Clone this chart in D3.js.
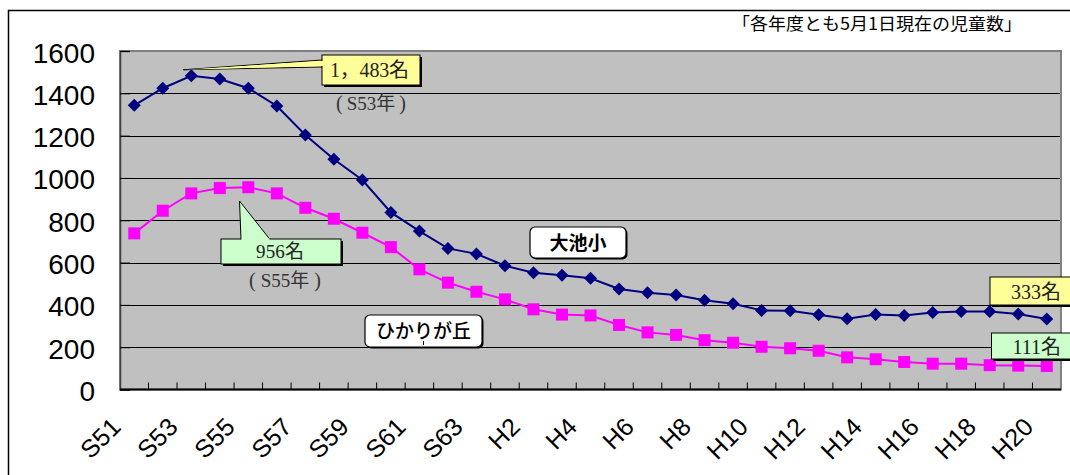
<!DOCTYPE html>
<html>
<head>
<meta charset="utf-8">
<script src="https://cdn.jsdelivr.net/npm/d3@7"></script>
<style>
  html, body { margin: 0; padding: 0; background: #fff; }
  svg { display: block; }
  text { text-spacing-trim: space-all; }
</style>
</head>
<body>
<svg id="chart" width="1070" height="475"></svg>
<script>
// ---------- data ----------
const categories = ["S51","S52","S53","S54","S55","S56","S57","S58","S59","S60","S61","S62","S63",
  "H1","H2","H3","H4","H5","H6","H7","H8","H9","H10","H11","H12","H13","H14","H15","H16","H17","H18","H19","H20"];
const ooikeSho = [1343,1424,1483,1468,1424,1340,1203,1088,990,837,749,667,641,
  585,552,540,526,475,457,447,422,405,374,372,353,335,354,350,364,369,369,357,333];
const hikarigaoka = [738,845,927,952,956,927,859,807,741,673,568,505,462,
  426,379,354,350,305,270,258,233,221,202,195,183,152,143,130,122,122,115,113,111];
const xTickLabels = ["S51","S53","S55","S57","S59","S61","S63","H2","H4","H6","H8","H10","H12","H14","H16","H18","H20"];
const yTicks = [0,200,400,600,800,1000,1200,1400,1600];
const seriesNames = ["大池小","ひかりが丘"];
const titleText = "「各年度とも5月1日現在の児童数」";

// ---------- layout ----------
const svg = d3.select("#chart");
const L = 120, R = 1061, T = 51, B = 389.5;
const x = d3.scaleBand().domain(categories).range([L, R]).padding(0);
const cx = c => x(c) + x.bandwidth() / 2;
const y = d3.scaleLinear().domain([0, 1600]).range([B, T]);

const sans = "'Liberation Sans', Arial, 'Noto Sans CJK JP', sans-serif";
const serif = "'Liberation Serif', 'Times New Roman', 'Noto Sans CJK JP', serif";
const jp = "'Noto Sans CJK JP', 'Noto Sans', sans-serif";

// outer frame
svg.append("rect").attr("x", 8.5).attr("y", 10.5).attr("width", 1200).attr("height", 600)
  .attr("fill", "#fff").attr("stroke", "#000").attr("stroke-width", 1.5);

// title
svg.append("text").attr("x", 732).attr("y", 30)
  .attr("textLength", 290).attr("lengthAdjust", "spacingAndGlyphs")
  .attr("font-family", jp).attr("font-size", 17).attr("fill", "#000").text(titleText);

// plot area
svg.append("rect").attr("x", L).attr("y", T).attr("width", R - L).attr("height", B - T)
  .attr("fill", "#C0C0C0");

// gridlines
svg.append("g").selectAll("line").data(yTicks.filter(v => v > 0 && v < 1600)).join("line")
  .attr("x1", L).attr("x2", R).attr("y1", d => Math.round(y(d)) + 0.5).attr("y2", d => Math.round(y(d)) + 0.5)
  .attr("stroke", "#000").attr("stroke-width", 1);

// plot border
svg.append("rect").attr("x", L).attr("y", T).attr("width", R - L).attr("height", B - T)
  .attr("fill", "none").attr("stroke", "#808080").attr("stroke-width", 2);

// y axis
const yAxis = svg.append("g").attr("transform", `translate(${L},0)`)
  .call(d3.axisLeft(y).tickValues(yTicks).tickFormat(d3.format("d")).tickSize(-10).tickPadding(0));
yAxis.select(".domain").attr("stroke", "#404040").attr("stroke-width", 1.5);
yAxis.selectAll(".tick line").attr("stroke", "#000");
yAxis.selectAll(".tick text").attr("x", -25).attr("dy", 11).attr("text-anchor", "end")
  .attr("font-family", sans).attr("font-size", 28).attr("fill", "#000");

// x axis (labels)
const xAxis = svg.append("g").attr("transform", `translate(0,${B})`)
  .call(d3.axisBottom(x).tickValues(xTickLabels).tickSize(0));
xAxis.select(".domain").remove();
xAxis.selectAll(".tick text")
  .attr("y", 0).attr("dy", 0)
  .attr("transform", "translate(-12,39) rotate(-45)")
  .attr("text-anchor", "end")
  .attr("font-family", sans).attr("font-size", 25).attr("fill", "#000");
// x tick marks at category boundaries (pointing up)
svg.append("g").selectAll("line").data(categories.slice(1)).join("line")
  .attr("x1", d => x(d)).attr("x2", d => x(d))
  .attr("y1", B).attr("y2", B - 7)
  .attr("stroke", "#000").attr("stroke-width", 1);
// baseline
svg.append("line").attr("x1", L).attr("x2", R).attr("y1", B).attr("y2", B)
  .attr("stroke", "#000").attr("stroke-width", 2);

// ---------- series ----------
const line = d3.line().x((d, i) => cx(categories[i])).y(d => y(d));

svg.append("path").datum(hikarigaoka).attr("d", line)
  .attr("fill", "none").attr("stroke", "#FF00FF").attr("stroke-width", 2);
svg.append("g").selectAll("rect").data(hikarigaoka).join("rect")
  .attr("x", (d, i) => cx(categories[i]) - 6).attr("y", d => y(d) - 6)
  .attr("width", 12).attr("height", 12).attr("fill", "#FF00FF");

svg.append("path").datum(ooikeSho).attr("d", line)
  .attr("fill", "none").attr("stroke", "#000080").attr("stroke-width", 2);
svg.append("g").selectAll("path").data(ooikeSho).join("path")
  .attr("d", (d, i) => {
    const px = cx(categories[i]), py = y(d), r = 6.5;
    return `M${px},${py - r}L${px + r},${py}L${px},${py + r}L${px - r},${py}Z`;
  })
  .attr("fill", "#000080");

// ---------- annotations ----------
function calloutBox(x0, y0, w, h, fill) {
  const g = svg.append("g");
  g.append("rect").attr("x", x0 + 2).attr("y", y0 + 2).attr("width", w).attr("height", h).attr("fill", "#000");
  g.append("rect").attr("x", x0).attr("y", y0).attr("width", w).attr("height", h)
    .attr("fill", fill).attr("stroke", "#000").attr("stroke-width", 1);
  return g;
}
// "（S53年）" style label drawn in three pieces so the wide brackets keep their width
function yearLabel(x0, x1, yb, txt) {
  const g = svg.append("g").attr("font-family", serif).attr("fill", "#333");
  g.append("text").attr("x", x0 + 1).attr("y", yb).attr("font-size", 20).text("(");
  g.append("text").attr("x", (x0 + x1) / 2).attr("y", yb).attr("text-anchor", "middle")
    .attr("font-size", 19).text(txt + "年");
  g.append("text").attr("x", x1 - 1).attr("y", yb).attr("text-anchor", "end").attr("font-size", 20).text(")");
}

// peak callout for 大池小
const iPeakA = ooikeSho.indexOf(d3.max(ooikeSho));
svg.append("path")
  .attr("d", `M${cx(categories[iPeakA]) - 8},${y(ooikeSho[iPeakA]) - 6}L322,60L322,67Z`)
  .attr("fill", "#FFFF99").attr("stroke", "#000").attr("stroke-width", 1);
calloutBox(322, 55, 98, 30, "#FFFF99");
svg.append("path")
  .attr("d", `M${cx(categories[iPeakA]) - 8},${y(ooikeSho[iPeakA]) - 6}L323,61L323,66Z`)
  .attr("fill", "#FFFF99");
svg.append("text").attr("x", 330).attr("y", 77)
  .attr("textLength", 79).attr("lengthAdjust", "spacing")
  .attr("font-family", serif).attr("font-size", 20).attr("fill", "#222")
  .text("1，" + d3.format("d")(ooikeSho[iPeakA] % 1000) + "名");
yearLabel(335, 407, 110, categories[iPeakA]);

// peak callout for ひかりが丘
const iPeakB = hikarigaoka.indexOf(d3.max(hikarigaoka));
calloutBox(221, 239, 120, 25, "#CCFFCC");
svg.append("path")
  .attr("d", `M241,239.5L239.5,201L270,239.5`)
  .attr("fill", "#CCFFCC").attr("stroke", "#000").attr("stroke-width", 1);
svg.append("rect").attr("x", 241.5).attr("y", 238.5).attr("width", 28).attr("height", 1.5).attr("fill", "#CCFFCC");
svg.append("text").attr("x", 256).attr("y", 258)
  .attr("textLength", 48).attr("lengthAdjust", "spacing")
  .attr("font-family", serif).attr("font-size", 19).attr("fill", "#222")
  .text(hikarigaoka[iPeakB] + "名");
yearLabel(248, 322, 287, categories[iPeakB]);

// last-value boxes
const nLast = categories.length - 1;
calloutBox(990, 277, 100, 28, "#FFFF99");
svg.append("text").attr("x", 1061).attr("y", 299).attr("text-anchor", "end")
  .attr("font-family", serif).attr("font-size", 20).attr("fill", "#222")
  .text(ooikeSho[nLast] + "名");
calloutBox(991.5, 333, 100, 26, "#CCFFCC");
svg.append("text").attr("x", 1061).attr("y", 354).attr("text-anchor", "end")
  .attr("font-family", serif).attr("font-size", 20).attr("fill", "#222")
  .text(hikarigaoka[nLast] + "名");

// series name boxes
function nameBox(x0, y0, w, h, label, weight) {
  svg.append("rect").attr("x", x0 + 1.5).attr("y", y0 + 1.5).attr("width", w).attr("height", h)
    .attr("rx", 5).attr("fill", "#000");
  svg.append("rect").attr("x", x0).attr("y", y0).attr("width", w).attr("height", h)
    .attr("rx", 5).attr("fill", "#fff").attr("stroke", "#000").attr("stroke-width", 1.2);
  svg.append("text").attr("x", x0 + w / 2).attr("y", y0 + h / 2 + 7).attr("text-anchor", "middle")
    .attr("font-family", jp).attr("font-weight", weight).attr("font-size", 19).attr("fill", "#000")
    .text(label);
}
nameBox(530, 227, 96, 31, seriesNames[0], "bold");
nameBox(365, 315, 117, 32, seriesNames[1], "500");
svg.append("line").attr("x1", 423.5).attr("x2", 423.5).attr("y1", 341).attr("y2", 345)
  .attr("stroke", "#000").attr("stroke-width", 1);
</script>
</body>
</html>
